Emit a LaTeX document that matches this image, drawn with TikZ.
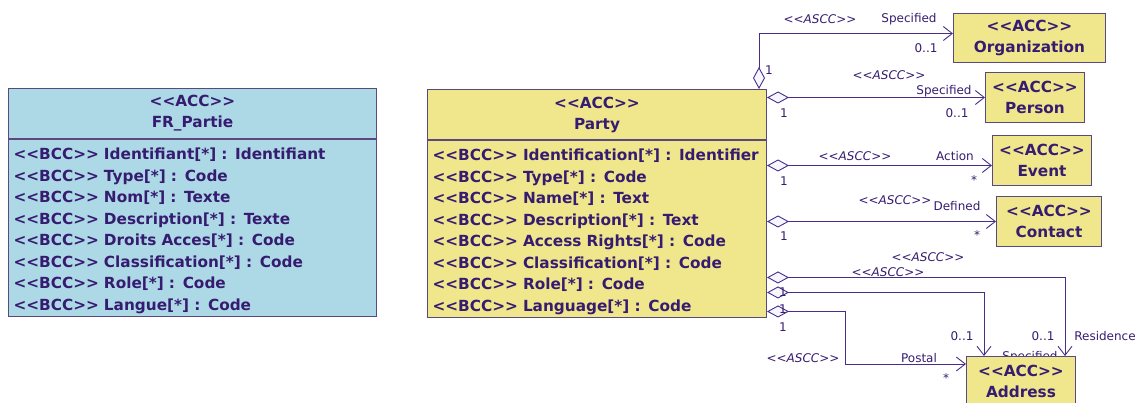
\documentclass[tikz,border=0pt]{standalone}
\usepackage{fontspec}
\setmainfont{DejaVu Sans}
\usetikzlibrary{positioning, arrows.meta}

\definecolor{ink}{RGB}{54,28,112}
\definecolor{wire}{RGB}{72,46,138}
\definecolor{frame}{RGB}{90,72,128}
\definecolor{skyfill}{RGB}{173,216,230}
\definecolor{sand}{RGB}{240,230,140}
\definecolor{dia}{RGB}{246,246,255}

\newcommand\ster[1]{<{}<#1>{}>}
\newcommand\toprow{\rule{0pt}{17pt}}

\begin{document}
\begin{tikzpicture}[
  x=1pt, y=-1pt,
  every node/.style={text=ink},
  head/.style={draw=frame, line width=1pt, anchor=north west, minimum height=50pt,
    align=center, inner sep=0pt, font=\bfseries\fontsize{15.3}{21}\selectfont},
  body/.style={draw=frame, line width=1pt, anchor=north west, minimum height=177pt,
    align=left, inner xsep=5pt, font=\bfseries\fontsize{15.3}{21.5}\selectfont},
  lbl/.style={inner sep=0pt, font=\fontsize{12}{14}\selectfont},
  stereo/.style={inner sep=0pt, font=\itshape\fontsize{12}{14}\selectfont},
  assoc/.style={draw=wire, line width=0.9pt,
    {Diamond[length=22pt,width=12pt,fill=dia]}-{Straight Barb[length=9pt,width=14pt]}}
]
  \useasboundingbox (0,0) rectangle (1141,403);

  % source class
  \node[head, fill=skyfill, minimum width=368pt] (frhead) at (8,88) {\ster{ACC}\\FR\_Partie};
  \node[body, fill=skyfill, text width=358pt] (frbody) at (frhead.south west)
    {\toprow\ster{BCC} Identifiant[*] : Identifiant\\
     \ster{BCC} Type[*] : Code\\
     \ster{BCC} Nom[*] : Texte\\
     \ster{BCC} Description[*] : Texte\\
     \ster{BCC} Droits Acces[*] : Code\\
     \ster{BCC} Classification[*] : Code\\
     \ster{BCC} Role[*] : Code\\
     \ster{BCC} Langue[*] : Code};

  % target class
  \node[head, fill=sand, minimum width=339pt] (partyhead) at (427,89) {\ster{ACC}\\Party};
  \node[body, fill=sand, text width=329pt] (partybody) at (partyhead.south west)
    {\toprow\ster{BCC} Identification[*] : Identifier\\
     \ster{BCC} Type[*] : Code\\
     \ster{BCC} Name[*] : Text\\
     \ster{BCC} Description[*] : Text\\
     \ster{BCC} Access Rights[*] : Code\\
     \ster{BCC} Classification[*] : Code\\
     \ster{BCC} Role[*] : Code\\
     \ster{BCC} Language[*] : Code};

  % associated classes
  \node[head, fill=sand, minimum width=152pt, minimum height=49pt] (org) at (953,13) {\ster{ACC}\\Organization};
  \node[head, fill=sand, minimum width=99pt] (person) at (985,72) {\ster{ACC}\\Person};
  \node[head, fill=sand, minimum width=99pt] (event) at (992,135) {\ster{ACC}\\Event};
  \node[head, fill=sand, minimum width=105pt] (contact) at (996,196) {\ster{ACC}\\Contact};
  \node[lbl] (specaddr) at (1030,357) {Specified};
  \node[head, fill=sand, minimum width=109pt] (address) at (966,356) {\ster{ACC}\\Address};

  \coordinate (orgin) at ([yshift=4.5pt]org.west);
  \coordinate (evin) at ([yshift=-5pt]event.west);
  \coordinate (resout) at ([yshift=41pt]partybody.south east);
  \coordinate (specout) at ([yshift=26pt]partybody.south east);
  \coordinate (postout) at ([yshift=7pt]partybody.south east);

  % associations
  \draw[assoc] ([xshift=-8pt]partyhead.north east) |- (orgin);
  \draw[assoc] (partyhead.east |- person.west) -- (person.west);
  \draw[assoc] (partybody.east |- evin) -- (evin);
  \draw[assoc] (partybody.east |- contact.west) -- (contact.west);
  \draw[assoc] (resout) -| ([xshift=-11pt]address.north east);
  \draw[assoc] (specout) -| ([xshift=18pt]address.north west);
  \draw[assoc] (postout) -- ++(78,0) |- ([yshift=-8pt]address.north west);

  % association labels
  \node[stereo] (s1) at (820,19) {\ster{ASCC}};
  \node[lbl] (r1) at (909,19) {Specified};
  \node[lbl] (m1) at (926,48) {0..1};
  \node[lbl] (o1) at (769,70) {1};

  \node[stereo] (s2) at (889,75) {\ster{ASCC}};
  \node[lbl] (r2) at (944,91) {Specified};
  \node[lbl] (m2) at (957,113) {0..1};
  \node[lbl] (o2) at (784,113) {1};

  \node[stereo] (s3) at (855,156) {\ster{ASCC}};
  \node[lbl] (r3) at (955,156) {Action};
  \node[lbl] (m3) at (974,180) {*};
  \node[lbl] (o3) at (784,181) {1};

  \node[stereo] (s4) at (895,200) {\ster{ASCC}};
  \node[lbl] (r4) at (957,206) {Defined};
  \node[lbl] (m4) at (977,235) {*};
  \node[lbl] (o4) at (784,236) {1};

  \node[stereo] (s5) at (928,257) {\ster{ASCC}};
  \node[lbl] (r5) at (1105,336) {Residence};
  \node[lbl] (m5) at (1043,336) {0..1};
  \node[lbl] (o5) at (783,292) {1};

  \node[stereo] (s6) at (888,272) {\ster{ASCC}};
  \node[lbl] (m6) at (962,336) {0..1};
  \node[lbl] (o6) at (783,309) {1};

  \node[stereo] (s7) at (803,358) {\ster{ASCC}};
  \node[lbl] (r7) at (919,358) {Postal};
  \node[lbl] (m7) at (946,378) {*};
  \node[lbl] (o7) at (783,327) {1};
\end{tikzpicture}
\end{document}
